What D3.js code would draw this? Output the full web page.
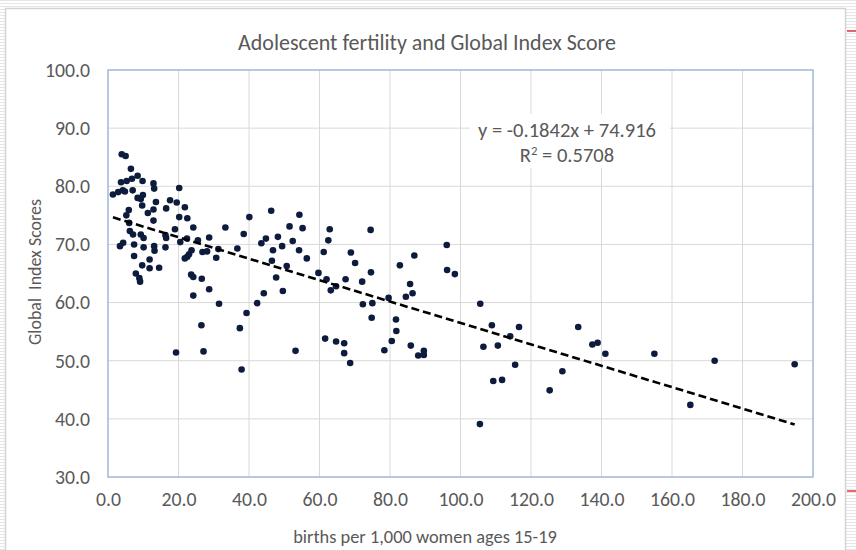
<!DOCTYPE html>
<html><head><meta charset="utf-8">
<script src="https://cdn.jsdelivr.net/npm/d3@7"></script>
<style>html,body{margin:0;padding:0;background:#fff;}svg{display:block;}</style>
</head><body>
<svg id="chart" width="856" height="550"></svg>
<script>
// ---- data ----
const chartTitle = "Adolescent fertility and Global Index Score";
const xTitle = "births per 1,000 women ages 15-19";
const yTitle = "Global  Index Scores";
const xTicks = [0,20,40,60,80,100,120,140,160,180,200];
const yTicks = [30,40,50,60,70,80,90,100];
const trendSlope = -0.1842;
const trendIntercept = 74.916;
const rSquared = 0.5708;
const fertility = [
3.9,5.0,6.5,8.4,6.8,5.3,3.7,9.8,12.9,13.1,1.4,2.9,4.2,4.8,7.0,8.4,9.3,9.9,20.2,13.6,
9.7,17.6,19.5,16.5,21.8,12.9,5.9,11.3,5.2,20.2,22.5,12.9,6.0,24.2,19.0,6.2,7.1,9.3,10.1,16.3,
16.5,20.5,22.4,25.5,28.7,33.3,4.3,3.4,7.4,10.1,13.1,13.2,16.3,23.7,26.8,28.1,31.3,23.0,22.5,21.8,
30.7,7.4,11.8,9.7,11.8,14.5,7.9,8.9,23.6,24.2,26.6,9.1,28.7,24.2,31.5,26.5,19.3,27.1,37.4,39.3,
42.3,44.2,47.7,49.6,53.2,37.9,40.1,38.5,36.7,46.3,54.3,51.5,55.2,43.5,44.8,48.2,46.8,49.4,52.4,54.2,
56.4,46.5,50.7,62.9,62.5,61.2,59.7,62.0,63.2,64.7,68.9,70.1,67.4,72.1,74.5,74.6,72.3,75.0,74.8,79.6,
82.8,86.9,85.7,84.5,86.4,81.7,81.8,80.5,78.4,61.6,64.7,67.0,67.0,68.7,96.1,96.2,98.4,85.9,88.0,89.6,
89.6,105.6,108.9,106.5,110.6,114.1,116.6,115.5,109.3,111.8,128.9,125.3,133.4,137.4,138.9,141.1,155.0,172.1,165.2,194.8,
105.5
];
const indexScore = [
85.5,85.2,83.0,81.8,81.3,80.9,80.7,80.9,80.5,79.6,78.6,79.0,79.3,79.1,79.3,78.0,77.8,78.5,79.7,77.3,
76.7,77.6,77.2,76.2,76.4,76.0,75.9,75.4,75.0,74.7,74.5,74.1,73.7,72.9,72.6,72.3,71.7,71.7,71.1,71.6,
71.1,70.4,71.0,70.7,71.2,72.9,70.3,69.7,70.0,69.5,69.7,68.9,69.5,69.0,68.7,68.8,69.2,68.3,67.9,67.6,
67.7,68.0,67.4,66.4,65.9,66.0,65.0,64.2,64.8,64.4,64.1,63.6,62.3,61.2,59.8,56.1,51.4,51.6,55.6,58.2,
59.9,61.6,64.3,62.0,51.7,48.5,74.7,71.8,69.3,75.8,75.1,73.1,72.8,70.2,71.0,71.3,69.0,69.7,70.6,69.0,
67.6,67.2,66.3,72.6,70.7,68.7,65.1,64.0,62.1,62.8,68.6,66.8,64.0,63.6,72.5,65.2,59.7,59.9,57.4,60.8,
66.4,68.1,63.2,61.0,61.6,57.1,55.1,53.4,51.8,53.8,53.3,53.0,51.3,49.6,69.9,65.6,64.9,52.6,50.9,51.7,
51.0,59.8,56.1,52.4,52.6,54.2,55.8,49.3,46.5,46.7,48.2,44.9,55.8,52.8,53.1,51.2,51.2,50.0,42.4,49.4,
39.1
];

// ---- layout ----
const W = 856, H = 550;
const plot = {left:108, right:813, top:70, bottom:477};
const font = "Carlito, Lato, 'Open Sans', sans-serif";
const textColor = "#595959";

function fit(sel, target){
  sel.each(function(){
    const fs = parseFloat(this.getAttribute("font-size"));
    const w = this.getComputedTextLength();
    if (w > 0) this.setAttribute("font-size", (fs*target/w).toFixed(2));
  });
}

const svg = d3.select("#chart");
const defs = svg.append("defs");
const pat = defs.append("pattern").attr("id","stripes").attr("patternUnits","userSpaceOnUse")
  .attr("width",4).attr("height",3);
pat.append("rect").attr("width",4).attr("height",3).attr("fill","#ffffff");
pat.append("rect").attr("y",0).attr("width",4).attr("height",1).attr("fill","#e6e6e6");

svg.append("rect").attr("width",W).attr("height",H).attr("fill","url(#stripes)");
svg.append("rect").attr("x",5.5).attr("y",8.5).attr("width",840).attr("height",H)
  .attr("fill","#fff").attr("stroke","#d4d4d4").attr("stroke-width",1.5);
[31,491].forEach(y=>{
  svg.append("line").attr("x1",847).attr("x2",856).attr("y1",y).attr("y2",y)
    .attr("stroke","#d9393b").attr("stroke-width",1.5);
});

const x = d3.scaleLinear().domain([0,200]).range([plot.left,plot.right]);
const y = d3.scaleLinear().domain([30,100]).range([plot.bottom,plot.top]);

const grid = svg.append("g");
grid.selectAll("line.v").data(xTicks.slice(1,-1)).join("line")
  .attr("x1",d=>x(d)).attr("x2",d=>x(d)).attr("y1",plot.top).attr("y2",plot.bottom)
  .attr("stroke","#d9d9d9").attr("stroke-width",1);
grid.selectAll("line.h").data(yTicks.slice(1,-1)).join("line")
  .attr("x1",plot.left).attr("x2",plot.right).attr("y1",d=>y(d)).attr("y2",d=>y(d))
  .attr("stroke","#d9d9d9").attr("stroke-width",1);

const xAxis = d3.axisBottom(x).tickValues(xTicks).tickFormat(d3.format(".1f")).tickSize(0).tickPadding(15);
const gx = svg.append("g").attr("transform",`translate(0,${plot.bottom})`).call(xAxis);
const yAxis = d3.axisLeft(y).tickValues(yTicks).tickFormat(d3.format(".1f")).tickSize(0).tickPadding(18);
const gy = svg.append("g").attr("transform",`translate(${plot.left},0)`).call(yAxis);
[gx,gy].forEach(g=>{
  g.select(".domain").remove();
  g.selectAll("text").attr("font-family",font).attr("font-size",14).attr("fill",textColor);
});
// scale tick fonts so "100.0" is ~45px wide
const ref = gx.selectAll("text").filter(d=>d===100).node();
const tickFs = 14*45/ref.getComputedTextLength();
gx.selectAll("text").attr("font-size",tickFs);
gy.selectAll("text").attr("font-size",tickFs);

svg.append("rect").attr("x",plot.left).attr("y",plot.top)
  .attr("width",plot.right-plot.left).attr("height",plot.bottom-plot.top)
  .attr("fill","none").attr("stroke","#a3b6d8").attr("stroke-width",1.5);

// equation box
const eq = svg.append("g");
eq.append("rect").attr("x",470).attr("y",114).attr("width",200).attr("height",54).attr("fill","#fff");
const t1 = eq.append("text").attr("x",567).attr("y",137).attr("text-anchor","middle")
  .attr("font-family",font).attr("font-size",16).attr("fill",textColor)
  .text(`y = ${trendSlope}x + ${trendIntercept}`);
fit(t1,178);
const eqFs = parseFloat(t1.attr("font-size"));
const t2 = eq.append("text").attr("x",567).attr("y",162).attr("text-anchor","middle")
  .attr("font-family",font).attr("font-size",eqFs).attr("fill",textColor);
t2.append("tspan").text("R");
t2.append("tspan").attr("font-size",eqFs*0.62).attr("dy",-7).text("2");
t2.append("tspan").attr("dy",7).text(` = ${rSquared}`);

// points
const pts = fertility.map((f,i)=>({f, s:indexScore[i]}));
svg.append("g").selectAll("circle").data(pts).join("circle")
  .attr("cx",d=>x(d.f)).attr("cy",d=>y(d.s)).attr("r",3.3)
  .attr("fill","#0d1b3d");

// trendline
const ext = d3.extent(fertility);
const line = d3.line().x(d=>x(d)).y(d=>y(trendIntercept + trendSlope*d));
svg.append("path").datum(ext).attr("d",line)
  .attr("fill","none").attr("stroke","#000").attr("stroke-width",2.6)
  .attr("stroke-dasharray","8,4");

// titles
const tt = svg.append("text").attr("x",427).attr("y",50).attr("text-anchor","middle")
  .attr("font-family",font).attr("font-size",18).attr("fill",textColor).text(chartTitle);
fit(tt,378);
const xt = svg.append("text").attr("x",425).attr("y",543).attr("text-anchor","middle")
  .attr("font-family",font).attr("font-size",14).attr("fill",textColor).text(xTitle);
fit(xt,264);
const yt = svg.append("text").attr("transform","translate(41,272) rotate(-90)").attr("text-anchor","middle")
  .attr("font-family",font).attr("font-size",14).attr("fill",textColor)
  .attr("xml:space","preserve").style("white-space","pre").text(yTitle);
fit(yt,146);
</script>
</body></html>
